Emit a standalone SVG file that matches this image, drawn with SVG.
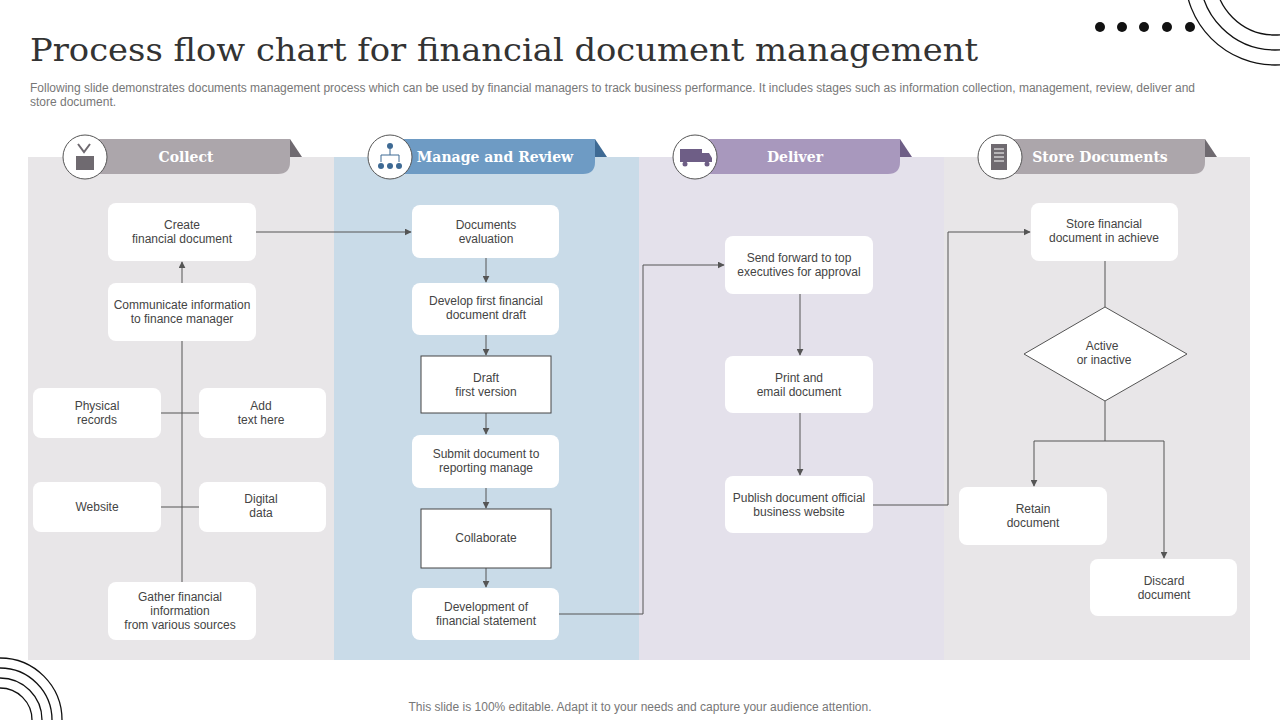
<svg xmlns="http://www.w3.org/2000/svg" width="1280" height="720" viewBox="0 0 1280 720">
<defs>
<marker id="ar" viewBox="0 0 10 10" refX="9" refY="5" markerWidth="7" markerHeight="7" orient="auto"><path d="M0,0 L10,5 L0,10 z" fill="#555"/></marker>
<style>
.n{fill:#fff;}
.t{font-family:"Liberation Sans",Arial,sans-serif;font-size:12px;fill:#444;text-anchor:middle;}
.c{stroke:#555;stroke-width:1;fill:none;}
.a{stroke:#555;stroke-width:1;fill:none;marker-end:url(#ar);}
.h{font-family:"DejaVu Serif","Liberation Serif",serif;font-weight:bold;font-size:14px;fill:#fff;text-anchor:middle;}
.ic{fill:#fff;stroke:#555;stroke-width:1;}
.deco{fill:none;stroke:#111;stroke-width:1.3;}
</style>
</defs>
<rect width="1280" height="720" fill="#fff"/>
<g id="deco">
<circle cx="1100" cy="27" r="5" fill="#111"/><circle cx="1122" cy="27" r="5" fill="#111"/><circle cx="1144" cy="27" r="5" fill="#111"/><circle cx="1167" cy="27" r="5" fill="#111"/><circle cx="1190" cy="27" r="5" fill="#111"/>
<circle class="deco" cx="1275" cy="-25" r="90"/><circle class="deco" cx="1275" cy="-25" r="75"/><circle class="deco" cx="1275" cy="-25" r="60"/>
<circle class="deco" cx="0" cy="720" r="62"/><circle class="deco" cx="0" cy="720" r="52"/><circle class="deco" cx="0" cy="720" r="42"/><circle class="deco" cx="0" cy="720" r="32"/>
</g>
<text x="30" y="61" font-family="DejaVu Serif,serif" font-size="32" fill="#333" textLength="948" lengthAdjust="spacingAndGlyphs">Process flow chart for financial document management</text>
<text font-family="Liberation Sans,Arial,sans-serif" font-size="12" fill="#777"><tspan x="30" y="92" textLength="1165" lengthAdjust="spacingAndGlyphs">Following slide demonstrates documents management process which can be used by financial managers to track business performance. It includes stages such as information collection, management, review, deliver and</tspan><tspan x="30" y="106">store document.</tspan></text>
<g id="lanes">
<rect x="28" y="157" width="306" height="503" fill="#e8e6e8"/>
<rect x="334" y="157" width="305" height="503" fill="#c9dbe8"/>
<rect x="639" y="157" width="305" height="503" fill="#e4e1eb"/>
<rect x="944" y="157" width="306" height="503" fill="#e8e6e8"/>
</g>
<g id="headers">
<g id="h1"><path d="M290,139 L302,157 L290,157 z" fill="#6f6a70"/><path d="M85,139 H290 V162 Q290,174 278,174 H85 z" fill="#aca6ab"/><circle cx="85" cy="157" r="22" class="ic"/><rect x="76" y="156" width="18" height="14" fill="#6f6a70"/><path d="M78,144 L84,152 L90,144" stroke="#6f6a70" stroke-width="2" fill="none"/><text class="h" x="186" y="162">Collect</text></g>
<g id="h2"><path d="M595,139 L607,157 L595,157 z" fill="#3e6a94"/><path d="M390,139 H595 V162 Q595,174 583,174 H390 z" fill="#6e9bc4"/><circle cx="390" cy="157" r="22" class="ic"/><circle cx="390" cy="146" r="3" fill="#3e6a94"/><path d="M381,162 V155 H399 V162 M390,149 V155" stroke="#3e6a94" fill="none"/><circle cx="381" cy="166" r="3" fill="#3e6a94"/><circle cx="390" cy="166" r="3" fill="#3e6a94"/><circle cx="399" cy="166" r="3" fill="#3e6a94"/><text class="h" x="495" y="162">Manage and Review</text></g>
<g id="h3"><path d="M900,139 L912,157 L900,157 z" fill="#6e5e86"/><path d="M695,139 H900 V162 Q900,174 888,174 H695 z" fill="#a898bd"/><circle cx="695" cy="157" r="22" class="ic"/><rect x="680" y="149" width="22" height="13" fill="#6e5e86"/><path d="M702,153 H709 L712,158 V162 H702 z" fill="#6e5e86"/><circle cx="685" cy="164" r="2.5" fill="#6e5e86"/><circle cx="707" cy="164" r="2.5" fill="#6e5e86"/><text class="h" x="795" y="162">Deliver</text></g>
<g id="h4"><path d="M1205,139 L1217,157 L1205,157 z" fill="#6f6a70"/><path d="M1000,139 H1205 V162 Q1205,174 1193,174 H1000 z" fill="#aca6ab"/><circle cx="1000" cy="157" r="22" class="ic"/><rect x="991" y="144" width="16" height="26" fill="#6f6a70"/><path d="M994,149 H1004 M994,153 H1004 M994,157 H1004 M994,161 H1004" stroke="#fff"/><text class="h" x="1100" y="162">Store Documents</text></g>
</g>
<g id="connectors">
<path class="a" d="M182,582 V262"/>
<path class="c" d="M161,413 H199 M161,507 H199"/>
<path class="a" d="M256,232 H411"/>
<path class="a" d="M486,258 V282"/><path class="a" d="M486,335 V355"/><path class="a" d="M486,413 V434"/><path class="a" d="M486,488 V508"/><path class="a" d="M486,568 V587"/>
<path class="a" d="M559,614 H643 V265 H724"/>
<path class="a" d="M800,294 V355"/><path class="a" d="M800,413 V475"/>
<path class="a" d="M873,505 H948 V232 H1030"/>
<path class="c" d="M1105,261 V307 M1105,401 V441 M1034,441 H1164"/>
<path class="a" d="M1034,441 V486"/><path class="a" d="M1164,441 V558"/>
</g>
<g id="nodes">
<g id="n1"><rect class="n" x="108" y="203" width="148" height="58" rx="8"/><text class="t" x="182" y="229">Create<tspan x="182" dy="14">financial document</tspan></text></g>
<g id="n2"><rect class="n" x="108" y="283" width="148" height="58" rx="8"/><text class="t" x="182" y="309">Communicate information<tspan x="182" dy="14">to finance manager</tspan></text></g>
<g id="n3"><rect class="n" x="33" y="388" width="128" height="50" rx="8"/><text class="t" x="97" y="410">Physical<tspan x="97" dy="14">records</tspan></text></g>
<g id="n4"><rect class="n" x="199" y="388" width="127" height="50" rx="8"/><text class="t" x="261" y="410">Add<tspan x="261" dy="14">text here</tspan></text></g>
<g id="n5"><rect class="n" x="33" y="482" width="128" height="50" rx="8"/><text class="t" x="97" y="511">Website</text></g>
<g id="n6"><rect class="n" x="199" y="482" width="127" height="50" rx="8"/><text class="t" x="261" y="503">Digital<tspan x="261" dy="14">data</tspan></text></g>
<g id="n7"><rect class="n" x="108" y="582" width="148" height="58" rx="8"/><text class="t" x="180" y="601">Gather financial<tspan x="180" dy="14">information</tspan><tspan x="180" dy="14">from various sources</tspan></text></g>
<g id="m1"><rect class="n" x="412" y="205" width="147" height="53" rx="8"/><text class="t" x="486" y="229">Documents<tspan x="486" dy="14">evaluation</tspan></text></g>
<g id="m2"><rect class="n" x="412" y="283" width="147" height="52" rx="8"/><text class="t" x="486" y="305">Develop first financial<tspan x="486" dy="14">document draft</tspan></text></g>
<g id="m3"><rect class="n" x="421" y="356" width="130" height="57" stroke="#444"/><text class="t" x="486" y="382">Draft<tspan x="486" dy="14">first version</tspan></text></g>
<g id="m4"><rect class="n" x="412" y="435" width="147" height="53" rx="8"/><text class="t" x="486" y="458">Submit document to<tspan x="486" dy="14">reporting manage</tspan></text></g>
<g id="m5"><rect class="n" x="421" y="509" width="130" height="59" stroke="#444"/><text class="t" x="486" y="542">Collaborate</text></g>
<g id="m6"><rect class="n" x="412" y="588" width="147" height="52" rx="8"/><text class="t" x="486" y="611">Development of<tspan x="486" dy="14">financial statement</tspan></text></g>
<g id="d1"><rect class="n" x="725" y="236" width="148" height="58" rx="8"/><text class="t" x="799" y="262">Send forward to top<tspan x="799" dy="14">executives for approval</tspan></text></g>
<g id="d2"><rect class="n" x="725" y="356" width="148" height="57" rx="8"/><text class="t" x="799" y="382">Print and<tspan x="799" dy="14">email document</tspan></text></g>
<g id="d3"><rect class="n" x="725" y="476" width="148" height="57" rx="8"/><text class="t" x="799" y="502">Publish document official<tspan x="799" dy="14">business website</tspan></text></g>
<g id="s1"><rect class="n" x="1031" y="203" width="147" height="58" rx="8"/><text class="t" x="1104" y="228">Store financial<tspan x="1104" dy="14">document in achieve</tspan></text></g>
<g id="s2"><path d="M1105,307 L1187,354 L1105,401 L1024,354 z" fill="#fff" stroke="#555"/><text class="t" x="1102" y="350">Active<tspan x="1104" dy="14">or inactive</tspan></text></g>
<g id="s3"><rect class="n" x="959" y="487" width="148" height="58" rx="8"/><text class="t" x="1033" y="513">Retain<tspan x="1033" dy="14">document</tspan></text></g>
<g id="s4"><rect class="n" x="1090" y="559" width="147" height="57" rx="8"/><text class="t" x="1164" y="585">Discard<tspan x="1164" dy="14">document</tspan></text></g>
</g>
<text x="640" y="711" font-family="Liberation Sans,Arial,sans-serif" font-size="12" fill="#777" text-anchor="middle">This slide is 100% editable. Adapt it to your needs and capture your audience attention.</text>
</svg>
